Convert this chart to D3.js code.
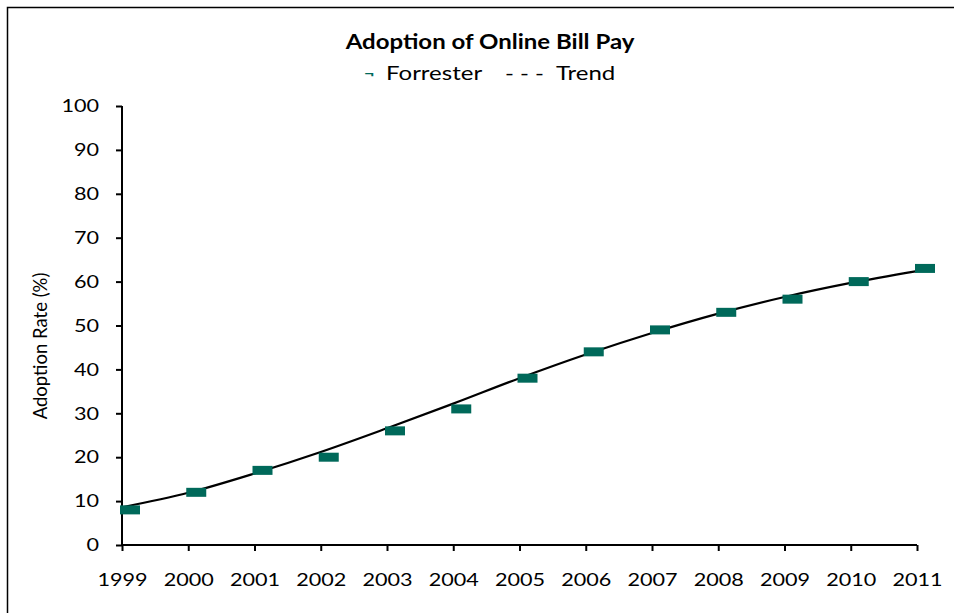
<!DOCTYPE html>
<html>
<head>
<meta charset="utf-8">
<script src="https://cdn.jsdelivr.net/npm/d3@7"></script>
<style>
  html, body { margin: 0; padding: 0; background: #fff; }
  svg { display: block; }
  text { font-family: Lato, "Open Sans", sans-serif; fill: #000; }
</style>
</head>
<body>
<svg id="chart" width="954" height="613"></svg>
<script>
const years = [1999, 2000, 2001, 2002, 2003, 2004, 2005, 2006, 2007, 2008, 2009, 2010, 2011];
const forrester = [8, 12, 17, 20, 26, 31, 38, 44, 49, 53, 56, 60, 63];
const trend = [8.6, 11.9, 16.3, 21.2, 26.6, 32.2, 38.0, 43.4, 48.3, 52.7, 56.5, 59.7, 62.4];
const yTicks = [0, 10, 20, 30, 40, 50, 60, 70, 80, 90, 100];
const title = "Adoption of Online Bill Pay";
const yTitle = "Adoption Rate (%)";
const seriesNames = ["Forrester", "Trend"];

const svg = d3.select("#chart");
const color = "#00695a";
const SX = 1.2; // horizontal stretch of text seen in the reference

function stretch(sel) {
  sel.each(function () {
    const len = this.getComputedTextLength();
    d3.select(this).attr("textLength", len * SX).attr("lengthAdjust", "spacingAndGlyphs");
  });
}

// outer border
svg.append("rect").attr("x", 7.5).attr("y", 7.5).attr("width", 960).attr("height", 620)
  .attr("fill", "none").attr("stroke", "#000").attr("stroke-width", 1.5);

const x = d3.scaleLinear().domain([1999, 2011]).range([122, 917]);
const y = d3.scaleLinear().domain([0, 100]).range([545, 106]);

// axes
const yAxis = svg.append("g").attr("transform", "translate(122,0)")
  .call(d3.axisLeft(y).tickValues(yTicks).tickSize(6).tickPadding(17).tickFormat(d3.format("d")));
const xAxis = svg.append("g").attr("transform", "translate(0,545)")
  .call(d3.axisBottom(x).tickValues(years).tickSize(6).tickPadding(22).tickFormat(d3.format("d")));
[yAxis, xAxis].forEach(a => {
  a.select(".domain").attr("stroke", "#000").attr("stroke-width", 2);
  a.selectAll(".tick line").attr("stroke", "#000").attr("stroke-width", 2);
  a.selectAll("text").style("font-size", "18px").style("font-family", "Lato, sans-serif").attr("fill", "#000");
  stretch(a.selectAll("text"));
});
xAxis.select(".domain").attr("d", "M122,0H917");
yAxis.select(".domain").attr("d", "M0,106V545");

// trend line
const line = d3.line().x((d, i) => x(years[i])).y(d => y(d)).curve(d3.curveMonotoneX);
svg.append("path").datum(trend).attr("d", line)
  .attr("fill", "none").attr("stroke", "#000").attr("stroke-width", 2.2);

// markers
svg.append("g").selectAll("rect").data(forrester).join("rect")
  .attr("x", (d, i) => x(years[i]) - 2)
  .attr("y", d => y(d) - 4.5)
  .attr("width", 20).attr("height", 9)
  .attr("fill", color);

// title
const t = svg.append("text").attr("x", 490).attr("y", 49).attr("text-anchor", "middle")
  .style("font-size", "20px").style("font-weight", "bold").text(title);
stretch(t);

// legend
const lg = svg.append("g");
lg.append("text").attr("x", 364).attr("y", 79).style("font-size", "15px").style("fill", color)
  .style("font-weight", "bold").text("¬");
const l1 = lg.append("text").attr("x", 386).attr("y", 80).style("font-size", "20px").text(seriesNames[0]);
const l2 = lg.append("text").attr("x", 505).attr("y", 80).style("font-size", "20px").text("- - -");
const l3 = lg.append("text").attr("x", 556).attr("y", 80).style("font-size", "20px").text(seriesNames[1]);
stretch(lg.selectAll("text"));

// y axis title
svg.append("text").attr("transform", "translate(47,346) rotate(-90)").attr("text-anchor", "middle")
  .style("font-size", "18.5px").text(yTitle);
</script>
</body>
</html>
